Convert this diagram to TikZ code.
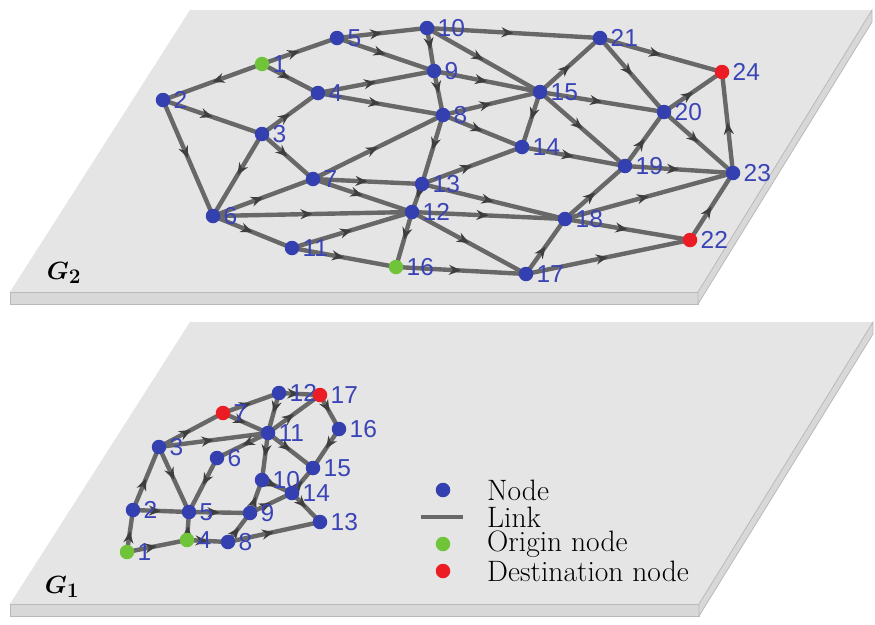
\documentclass[tikz,border=0pt]{standalone}
\usepackage{fontspec}
\usepackage{bm}
\usetikzlibrary{arrows.meta,decorations.markings}
\newfontfamily\numfont{Liberation Sans}

\definecolor{nodeblue}{RGB}{52,64,176}
\definecolor{numblue}{RGB}{58,68,182}
\definecolor{origgreen}{RGB}{112,196,58}
\definecolor{destred}{RGB}{236,28,36}
\definecolor{linkgray}{RGB}{104,104,104}
\definecolor{arrowgray}{RGB}{62,62,62}
\definecolor{planegray}{RGB}{229,229,229}
\definecolor{slabgray}{RGB}{216,216,216}

\pgfdeclarelayer{planes}
\pgfdeclarelayer{edges}
\pgfsetlayers{planes,edges,main}

\tikzset{
  vtx/.style={circle,inner sep=0pt,minimum size=14.5pt,draw=none},
  numlabel/.style={font=\numfont\fontsize{24.5}{24.5}\selectfont,text=numblue,inner sep=0pt},
  linkline/.style={line width=4.4pt,draw=linkgray,
    postaction={decorate},
    decoration={markings,mark=at position 0.5 with
      {\arrow{Stealth[length=12pt,width=10pt,color=arrowgray]}}}},
  legtext/.style={font=\fontsize{29.5}{29.5}\selectfont,anchor=west,inner sep=0pt},
  glabel/.style={font=\fontsize{28}{28}\selectfont,inner sep=0pt},
  plane/.style={fill=planegray,draw=none},
  slab/.style={fill=slabgray,draw=gray!55,line width=0.8pt}
}

\begin{document}
\begin{tikzpicture}[x=1pt,y=-1pt,label distance=3pt]
\useasboundingbox (0,0) rectangle (875,624);

% planes
\begin{pgfonlayer}{planes}
\fill[white] (0,0) rectangle (875,624);
\draw[plane] (190,10) -- (872,10) -- (698,292) -- (10,292) -- cycle;
\draw[slab] (10,292) -- (698,292) -- (698,304) -- (10,304) -- cycle;
\draw[slab] (698,292) -- (872,10) -- (872,22) -- (698,304) -- cycle;
\draw[plane] (190,322) -- (873,322) -- (699,604) -- (10,604) -- cycle;
\draw[slab] (10,604) -- (699,604) -- (699,616) -- (10,616) -- cycle;
\draw[slab] (699,604) -- (873,322) -- (873,334) -- (699,616) -- cycle;
\end{pgfonlayer}

\node[glabel] (g2lab) at (64,273) {$\bm{G_2}$};
\node[glabel] (g1lab) at (62,587) {$\bm{G_1}$};

% G2 nodes
\foreach \n/\x/\y/\c in {1/262/64/origgreen, 2/163/100/nodeblue, 3/262/134/nodeblue,
  4/318/93/nodeblue, 5/337/38/nodeblue, 6/213/216/nodeblue, 7/313/179/nodeblue,
  8/443/115/nodeblue, 9/434/71/nodeblue, 10/427/28/nodeblue, 11/292/248/nodeblue,
  12/412/212/nodeblue, 13/422/184/nodeblue, 14/522/147/nodeblue, 15/540/92/nodeblue,
  16/396/267/origgreen, 17/526/274/nodeblue, 18/565/219/nodeblue, 19/625/166/nodeblue,
  20/664/112/nodeblue, 21/600/38/nodeblue, 22/690/240/destred, 23/733/173/nodeblue,
  24/722/72/destred}
  \node[vtx,fill=\c,label={[numlabel]right:\n}] (t\n) at (\x,\y) {};

% G2 links
\begin{pgfonlayer}{edges}
\foreach \a/\b in {1/2, 1/5, 1/4, 2/3, 2/6, 3/4, 3/6, 3/7, 4/9, 4/8, 5/10, 5/9,
  10/9, 9/8, 10/21, 10/15, 9/15, 8/15, 15/21, 21/24, 21/20, 15/20, 20/24, 15/14,
  15/19, 8/14, 14/19, 19/20, 20/23, 23/24, 19/23, 13/14, 8/13, 7/8, 7/13, 7/12,
  6/7, 6/12, 6/11, 11/12, 11/16, 12/16, 13/12, 16/17, 12/17, 12/18, 13/18, 17/18,
  18/19, 18/23, 18/22, 17/22, 22/23}
  \draw[linkline] (t\a.center) -- (t\b.center);
\end{pgfonlayer}

% G1 nodes
\foreach \n/\x/\y/\c in {1/127/552/origgreen, 2/133/510/nodeblue, 3/159/447/nodeblue,
  4/187/540/origgreen, 5/189/512/nodeblue, 6/217/458/nodeblue, 7/223/413/destred,
  8/228/542/nodeblue, 9/250/513/nodeblue, 10/262/480/nodeblue, 11/268/433/nodeblue,
  12/279/393/nodeblue, 13/320/522/nodeblue, 14/292/493/nodeblue, 15/313/468/nodeblue,
  16/339/429/nodeblue, 17/320/395/destred}
  \node[vtx,fill=\c,label={[numlabel]right:\n}] (b\n) at (\x,\y) {};

% G1 links
\begin{pgfonlayer}{edges}
\foreach \a/\b in {1/2, 1/4, 2/3, 2/5, 3/5, 3/7, 3/11, 4/5, 6/5, 5/9, 4/8, 8/9,
  8/13, 9/10, 9/14, 11/10, 10/14, 14/13, 14/15, 11/15, 11/6, 7/11, 7/12, 12/11,
  11/17, 12/17, 16/15, 17/16}
  \draw[linkline] (b\a.center) -- (b\b.center);
\end{pgfonlayer}

% legend
\node[vtx,fill=nodeblue] (legnode) at (443,490) {};
\coordinate (legla) at (421,517);
\coordinate (leglb) at (463,517);
\draw[line width=4.4pt,draw=linkgray] (legla) -- (leglb);
\node[vtx,fill=origgreen] (legorig) at (443,544) {};
\node[vtx,fill=destred] (legdest) at (443,571) {};
\node[legtext] (legnodetxt) at (487,490) {Node};
\node[legtext] (leglinktxt) at (487,517) {Link};
\node[legtext] (legorigtxt) at (487,544) {Origin node};
\node[legtext] (legdesttxt) at (487,571) {Destination node};
\end{tikzpicture}
\end{document}
